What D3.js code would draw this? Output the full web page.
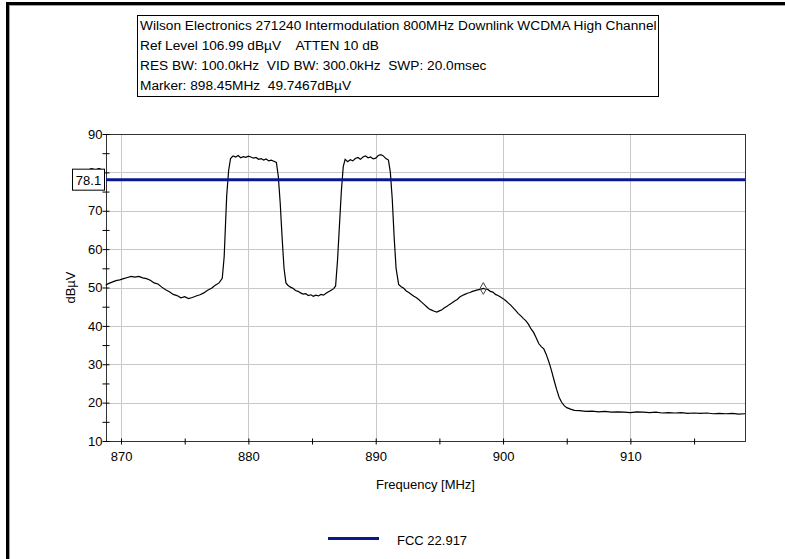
<!DOCTYPE html>
<html>
<head>
<meta charset="utf-8">
<script src="https://cdn.jsdelivr.net/npm/d3@7"></script>
<style>
  body { margin: 0; background: #fff; }
  text { font-family: "Liberation Sans", Arial, sans-serif; font-size: 13px; fill: #000; }
</style>
</head>
<body>
<div id="chart"></div>
<script>
// header lines of the analyzer printout
const headerLines = [
    "Wilson Electronics 271240 Intermodulation 800MHz Downlink WCDMA High Channel",
    "Ref Level 106.99 dB\u00b5V    ATTEN 10 dB",
    "RES BW: 100.0kHz  VID BW: 300.0kHz  SWP: 20.0msec",
    "Marker: 898.45MHz  49.7467dB\u00b5V"
];

// trace
const freq = [
    868.8, 869.0, 869.3, 869.6, 869.9, 870.2, 870.5, 870.8, 871.1, 871.4, 871.7, 872.0, 872.3, 872.6, 872.9,
    873.2, 873.5, 873.8, 874.1, 874.4, 874.7, 875.0, 875.3, 875.6, 875.9, 876.2, 876.5, 876.8, 877.1, 877.4,
    877.7, 877.95, 878.1, 878.2, 878.3, 878.45, 878.6, 878.8, 879.0, 879.2, 879.4, 879.6, 879.8, 880.0, 880.2,
    880.4, 880.6, 880.8, 881.0, 881.2, 881.4, 881.6, 881.8, 882.0, 882.2, 882.35, 882.5, 882.65, 882.8, 882.95,
    883.1, 883.3, 883.5, 883.7, 883.9, 884.1, 884.3, 884.5, 884.7, 884.9, 885.1, 885.3, 885.5, 885.7, 885.9,
    886.1, 886.3, 886.5, 886.7, 886.85, 887.0, 887.15, 887.3, 887.45, 887.6, 887.8, 888.0, 888.2, 888.4, 888.6,
    888.8, 889.0, 889.2, 889.4, 889.6, 889.8, 890.0, 890.2, 890.4, 890.6, 890.8, 891.0, 891.15, 891.3, 891.45,
    891.6, 891.8, 892.0, 892.2, 892.4, 892.6, 892.8, 893.0, 893.2, 893.4, 893.6, 893.8, 894.0, 894.2, 894.4,
    894.6, 894.8, 895.0, 895.2, 895.4, 895.6, 895.8, 896.0, 896.2, 896.4, 896.6, 896.8, 897.0, 897.2, 897.4,
    897.6, 897.8, 898.0, 898.2, 898.45, 898.6, 898.8, 899.0, 899.2, 899.4, 899.6, 899.8, 900.0, 900.2, 900.4,
    900.6, 900.8, 901.0, 901.2, 901.4, 901.6, 901.8, 902.0, 902.2, 902.4, 902.6, 902.8, 903.0, 903.2, 903.4,
    903.6, 903.8, 904.0, 904.2, 904.4, 904.6, 904.8, 905.0, 905.3, 905.6, 906.0, 906.5, 907.0, 907.5, 908.0,
    908.5, 909.0, 909.5, 910.0, 910.5, 911.0, 911.5, 912.0, 912.5, 913.0, 913.5, 914.0, 914.5, 915.0, 915.5,
    916.0, 916.5, 917.0, 917.5, 918.0, 918.5, 919.0
];
const level = [
    50.6, 51.0, 51.4, 51.8, 52.0, 52.3, 52.6, 52.9, 52.7, 52.9, 52.5, 52.3, 51.9, 51.2, 50.9,
    50.1, 49.4, 48.9, 48.2, 47.9, 47.3, 47.6, 47.1, 47.4, 47.8, 48.1, 48.6, 49.3, 49.8, 50.6,
    51.2, 52.4, 58.0, 66.0, 74.0, 80.5, 83.6, 84.3, 84.0, 84.4, 83.8, 84.1, 83.9, 84.2, 84.0,
    83.7, 83.9, 83.4, 83.6, 83.2, 83.5, 83.0, 83.2, 82.9, 82.6, 79.0, 72.0, 63.0, 55.0, 51.2,
    50.6, 50.1, 49.8, 49.2, 49.0, 48.6, 48.3, 48.4, 47.9, 48.1, 47.7, 48.0, 47.8, 48.2, 48.0,
    48.5, 48.9, 49.3, 49.7, 50.4, 57.0, 66.0, 75.0, 81.5, 83.4, 82.8, 83.3, 83.0, 83.6, 83.9,
    83.4, 84.0, 84.3, 83.8, 84.0, 83.5, 83.7, 84.4, 84.6, 84.3, 83.6, 83.2, 80.0, 73.0, 63.0,
    55.0, 50.8, 50.2, 49.8, 49.1, 48.7, 48.2, 47.7, 47.3, 46.8, 46.2, 45.6, 45.0, 44.4, 44.1,
    43.8, 43.6, 43.9, 44.2, 44.7, 45.1, 45.6, 46.0, 46.5, 46.9, 47.5, 47.9, 48.2, 48.5, 48.7,
    49.0, 49.2, 49.4, 49.5, 49.75, 49.6, 49.5, 49.0, 48.8, 48.2, 47.9, 47.5, 47.1, 46.6, 46.0,
    45.4, 44.7, 44.0, 43.2, 42.6, 41.9, 41.3, 40.4, 39.2, 38.3, 36.9, 35.4, 34.6, 34.0, 32.5,
    30.6, 28.4, 25.9, 23.5, 21.4, 20.1, 19.2, 18.7, 18.3, 18.0, 17.9, 17.7, 17.8, 17.6, 17.7,
    17.5, 17.6, 17.5, 17.4, 17.6, 17.5, 17.4, 17.5, 17.3, 17.4, 17.3, 17.4, 17.2, 17.3, 17.2,
    17.3, 17.1, 17.2, 17.1, 17.2, 17.0, 17.1
];

const limitValue = 78.1;
const limitLabel = "FCC 22.917";
const marker = { f: 898.45, v: 49.7467 };

const xMajor = [870, 880, 890, 900, 910];
const xMinor = [875, 885, 895, 905, 915];
const yMajor = [10, 20, 30, 40, 50, 60, 70, 80, 90];
const yMinor = [15, 25, 35, 45, 55, 65, 75, 85];

const W = 785, H = 559;
const plot = { left: 106, right: 745, top: 134, bottom: 441 };

const svg = d3.select("#chart")
    .append("svg")
    .attr("width", W)
    .attr("height", H);

// window frame
svg.append("rect").attr("x", 6).attr("y", 2).attr("width", W - 6).attr("height", 3).attr("fill", "#000");
svg.append("rect").attr("x", 6).attr("y", 2).attr("width", 3).attr("height", H - 2).attr("fill", "#000");
svg.append("line").attr("x1", 9).attr("x2", W).attr("y1", 5.5).attr("y2", 5.5).attr("stroke", "#a0a0a0");
svg.append("line").attr("x1", 9.5).attr("x2", 9.5).attr("y1", 5).attr("y2", H).attr("stroke", "#a0a0a0");

// header box
svg.append("rect")
    .attr("x", 137.5).attr("y", 15.5)
    .attr("width", 521).attr("height", 81)
    .attr("fill", "#fff").attr("stroke", "#000");

svg.selectAll(".hdr")
    .data(headerLines)
    .enter().append("text")
    .attr("class", "hdr")
    .attr("x", 140)
    .attr("y", (d, i) => 30 + i * 20)
    .style("white-space", "pre")
    .style("font-size", "13.7px")
    .text(d => d);

const x = d3.scaleLinear().domain([868.82, 919.0]).range([plot.left, plot.right]);
const y = d3.scaleLinear().domain([10, 90]).range([plot.bottom, plot.top]);

// grid
svg.append("g").selectAll("line")
    .data(xMajor).enter().append("line")
    .attr("x1", d => Math.round(x(d)) + 0.5).attr("x2", d => Math.round(x(d)) + 0.5)
    .attr("y1", plot.top).attr("y2", plot.bottom)
    .attr("stroke", "#c8c8c8");
svg.append("g").selectAll("line")
    .data(yMajor.slice(1, -1)).enter().append("line")
    .attr("x1", plot.left).attr("x2", plot.right)
    .attr("y1", d => Math.round(y(d)) + 0.5).attr("y2", d => Math.round(y(d)) + 0.5)
    .attr("stroke", "#c8c8c8");

// plot frame
svg.append("rect")
    .attr("x", plot.left + 0.5).attr("y", plot.top + 0.5)
    .attr("width", plot.right - plot.left).attr("height", plot.bottom - plot.top)
    .attr("fill", "none").attr("stroke", "#333");

// x axis
const xAxis = svg.append("g")
    .attr("transform", `translate(0,${plot.bottom + 0.5})`)
    .call(d3.axisBottom(x).tickValues(xMajor.concat(xMinor)).tickSizeOuter(0)
        .tickFormat(d => xMajor.includes(d) ? d : ""));
xAxis.select(".domain").remove();
xAxis.selectAll(".tick line").attr("y1", -3).attr("y2", 3).attr("stroke", "#000");
xAxis.selectAll(".tick text").attr("y", 17).attr("dy", "0.2em")
    .style("font-family", "'Liberation Sans', Arial, sans-serif").style("font-size", "13px");

// y axis
const yAxis = svg.append("g")
    .attr("transform", `translate(${plot.left + 0.5},0)`)
    .call(d3.axisLeft(y).tickValues(yMajor.concat(yMinor)).tickSizeOuter(0)
        .tickFormat(d => yMajor.includes(d) ? d : ""));
yAxis.select(".domain").remove();
yAxis.selectAll(".tick line").attr("x1", -4).attr("x2", 3).attr("stroke", "#000");
yAxis.selectAll(".tick text").attr("x", -4)
    .style("font-family", "'Liberation Sans', Arial, sans-serif").style("font-size", "13px");

// axis titles
svg.append("text")
    .attr("x", (plot.left + plot.right) / 2)
    .attr("y", 489)
    .style("text-anchor", "middle")
    .text("Frequency [MHz]");

svg.append("text")
    .attr("transform", `translate(75,${(plot.top + plot.bottom) / 2}) rotate(-90)`)
    .style("text-anchor", "middle")
    .text("dB\u00b5V");

// trace
const trace = freq.map((f, i) => ({ f: f, v: level[i] }));
const line = d3.line().x(d => x(d.f)).y(d => y(d.v));
svg.append("path")
    .datum(trace)
    .attr("fill", "none")
    .attr("stroke", "#000")
    .attr("stroke-width", 1.2)
    .attr("d", line);

// limit line
svg.append("line")
    .attr("x1", plot.left).attr("x2", plot.right)
    .attr("y1", y(limitValue)).attr("y2", y(limitValue))
    .attr("stroke", "#0a1890").attr("stroke-width", 3);

// limit value box (covers the 80 tick label, as in the analyzer output)
svg.append("rect")
    .attr("x", 72.5).attr("y", y(limitValue) - 10.5)
    .attr("width", 32).attr("height", 21)
    .attr("fill", "#fff").attr("stroke", "#000");
svg.append("text")
    .attr("x", 88.5).attr("y", y(limitValue) + 5)
    .style("text-anchor", "middle")
    .text(limitValue);

// marker
svg.append("path")
    .attr("d", d3.symbol(d3.symbolDiamond, 40)())
    .attr("transform", `translate(${x(marker.f)},${y(marker.v)})`)
    .attr("fill", "none")
    .attr("stroke", "#444");

// legend
svg.append("line")
    .attr("x1", 328).attr("x2", 379)
    .attr("y1", 538.5).attr("y2", 538.5)
    .attr("stroke", "#0a1890").attr("stroke-width", 3);
svg.append("text")
    .attr("x", 397).attr("y", 545)
    .text(limitLabel);
</script>
</body>
</html>
